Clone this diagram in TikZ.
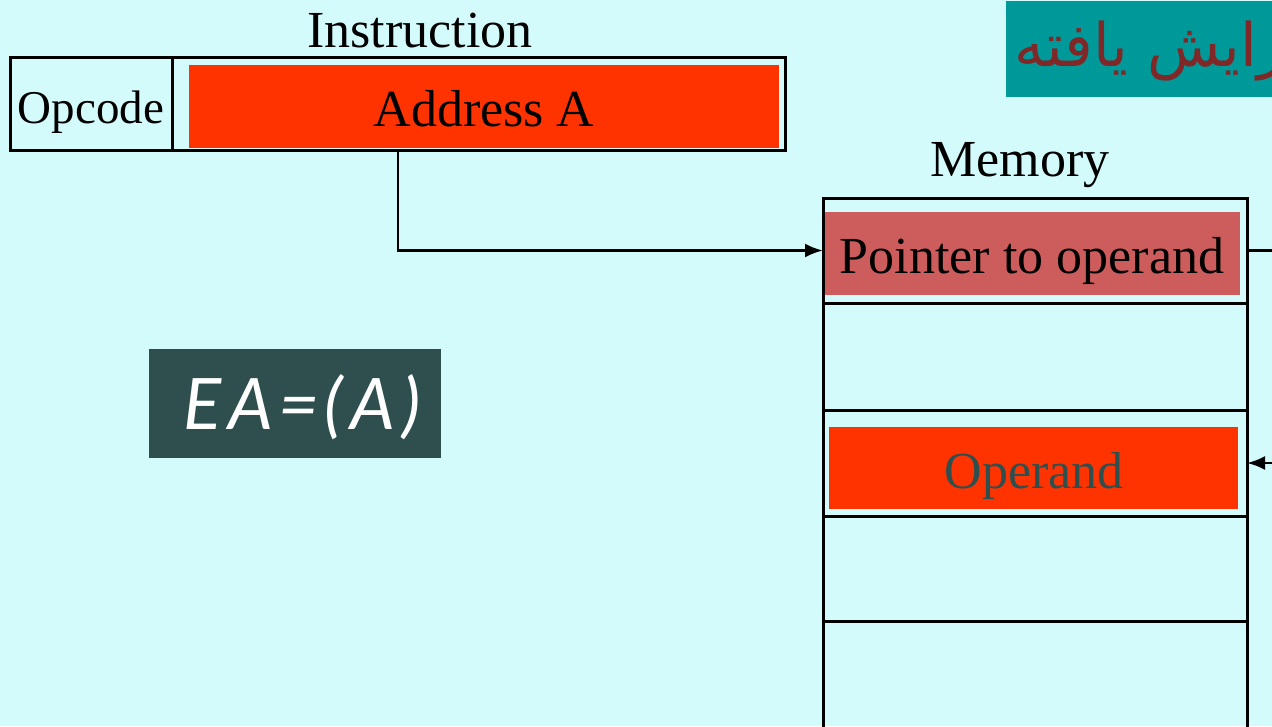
\documentclass[tikz,border=0pt]{standalone}
\usepackage{fontspec}
\setmainfont{Liberation Serif}
\newfontfamily\eafont{Lato}[LetterSpace=10]
\newfontfamily\arabicfont[Script=Arabic]{DejaVu Sans}
\TeXXeTstate=1
\usetikzlibrary{arrows.meta}

\definecolor{bgcyan}{RGB}{212,251,251}
\definecolor{hotred}{RGB}{255,51,0}
\definecolor{pointred}{RGB}{205,92,92}
\definecolor{slate}{RGB}{47,79,79}
\definecolor{tealbg}{RGB}{0,153,153}
\definecolor{maroonink}{RGB}{128,40,40}

\tikzset{
  cellbox/.style={draw=black, line width=3pt, inner sep=0pt, outer sep=0pt, anchor=north west},
  fillbox/.style={inner sep=0pt, outer sep=0pt, anchor=north west},
  bigtext/.style={inner sep=0pt, anchor=base, font=\fontsize{52}{60}\selectfont},
  wire/.style={draw=black, line width=2.6pt},
  arrowtip/.style={-{Latex[length=18pt,width=14pt]}}
}

\begin{document}
\begin{tikzpicture}[x=1pt, y=-1pt]
  \useasboundingbox (0,0) rectangle (1272,726);
  \clip (0,0) rectangle (1272,726);
  \fill[bgcyan] (0,0) rectangle (1272,726);

  % instruction word
  \node[bigtext] (instrlabel) at (420,47) {Instruction};
  \node[fillbox, fill=hotred, minimum width=590pt, minimum height=83pt] (addr) at (189,65) {};
  \node[cellbox, minimum width=775pt, minimum height=93pt] (instr) at (10,57) {};
  \node[cellbox, minimum width=162pt, minimum height=93pt] (opc) at (10,57) {};
  \node[bigtext, font=\fontsize{47}{55}\selectfont] (opclabel) at (91,123) {Opcode};
  \node[bigtext] (addrlabel) at (484,126) {Address A};

  % memory column
  \node[bigtext] (memlabel) at (1020,176) {Memory};
  \node[fillbox, fill=pointred, minimum width=415pt, minimum height=83pt] (ptr) at (825,212) {};
  \node[fillbox, fill=hotred, minimum width=409pt, minimum height=82pt] (opnd) at (829,427) {};
  \node[cellbox, minimum width=424pt, minimum height=105pt] (m1) at (823,198) {};
  \node[cellbox, minimum width=424pt, minimum height=107pt] (m2) at (823,303) {};
  \node[cellbox, minimum width=424pt, minimum height=106pt] (m3) at (823,410) {};
  \node[cellbox, minimum width=424pt, minimum height=105pt] (m4) at (823,516) {};
  \node[cellbox, minimum width=424pt, minimum height=130pt] (m5) at (823,621) {};
  \node[bigtext] (ptrlabel) at (1032,273) {Pointer to operand};
  \node[bigtext, text=slate] (opndlabel) at (1034,488) {Operand};

  % effective address formula
  \node[fillbox, fill=slate, minimum width=292pt, minimum height=109pt] (eabox) at (149,349) {};
  \node[inner sep=0pt, anchor=base, text=white, font=\eafont\itshape\fontsize{71}{80}\selectfont] (ealabel) at (302,429) {EA\hspace{5pt}=\hspace{5pt}(A)};

  % title tag
  \node[fillbox, fill=tealbg, minimum width=280pt, minimum height=96pt] (tag) at (1006,1) {};
  \node[inner sep=0pt, anchor=base west, text=maroonink, font=\arabicfont\fontsize{60}{70}\selectfont] (taglabel) at (1014,66) {\beginR آرایش یافته\endR};

  % connectors
  \coordinate (tap) at (398,0);
  \coordinate (offR) at (1290,0);
  \draw[wire, arrowtip] (instr.south -| tap) |- (m1.west);
  \draw[wire] (m1.east) -- (offR |- m1.east);
  \draw[wire, arrowtip] (offR |- m3.east) -- (m3.east);
\end{tikzpicture}
\end{document}
